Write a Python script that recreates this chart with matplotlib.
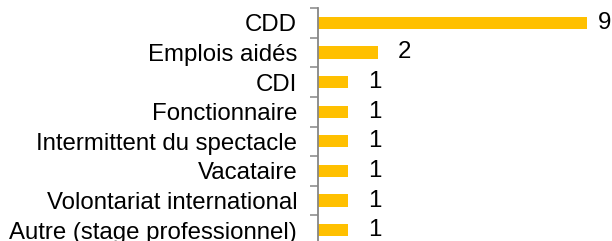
import matplotlib.pyplot as plt

categories = ['CDD', 'Emplois aidés', 'CDI', 'Fonctionnaire',
              'Intermittent du spectacle', 'Vacataire',
              'Volontariat international', 'Autre (stage professionnel)']
values = [9, 2, 1, 1, 1, 1, 1, 1]

plt.rcParams['font.family'] = ['Liberation Sans', 'DejaVu Sans']

W, H = 612, 241
fig = plt.figure(figsize=(W / 100, H / 100), dpi=100)
ax = fig.add_axes([318 / W, -4 / H, 299 / W, 237 / H])

pos = list(range(len(categories)))
ax.barh(pos, values, height=0.41, color='#FFC000')
ax.set_ylim(len(categories) - 0.5, -0.5)
ax.set_xlim(0, 10)

# labels at category centres, tick marks between categories
ax.set_yticks(pos)
ax.set_yticklabels(categories, fontsize=17.3)
ax.tick_params(axis='y', which='major', length=0, pad=15)
ax.set_yticks([p - 0.5 for p in pos] + [len(pos) - 0.5], minor=True)
ax.tick_params(axis='y', which='minor', length=6, width=1.1,
               color='#868686', direction='out')
ax.set_xticks([])

for s in ['top', 'right', 'bottom']:
    ax.spines[s].set_visible(False)
ax.spines['left'].set_color('#868686')
ax.spines['left'].set_linewidth(1.3)

for p, v in zip(pos, values):
    off = 11 if v == max(values) else 20
    ax.annotate(str(v), (v, p), xytext=(off, 0), textcoords='offset pixels',
                va='center', ha='left', fontsize=17.3, color='black')

fig.savefig('out.png', dpi=100)
